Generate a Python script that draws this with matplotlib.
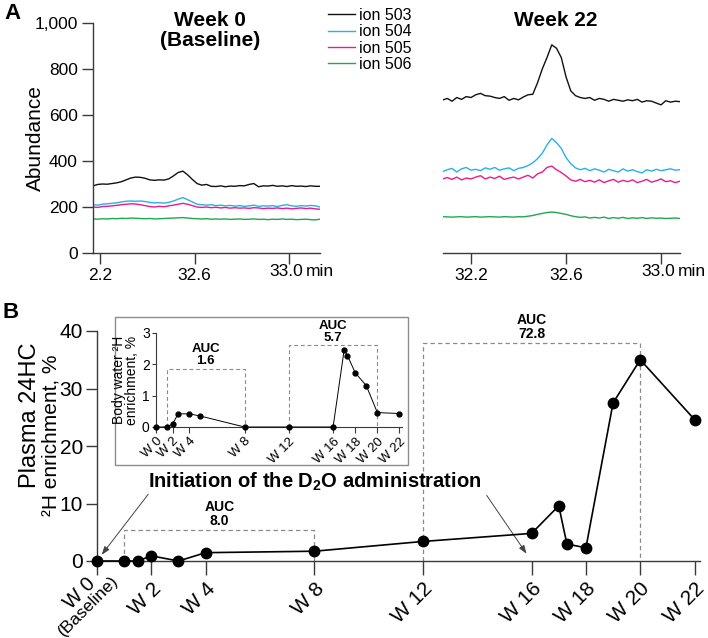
import numpy as np
import matplotlib
matplotlib.use("Agg")
import matplotlib.pyplot as plt
from matplotlib.patches import Rectangle

plt.rcParams['font.family'] = ['Liberation Sans', 'DejaVu Sans']
plt.rcParams['mathtext.fontset'] = 'custom'
plt.rcParams['mathtext.rm'] = 'Liberation Sans'
plt.rcParams['mathtext.bf'] = 'Liberation Sans:bold'

# ---- panel A: chromatogram traces (abundance vs retention time, min) ----
t_week0 = np.round(np.arange(32.17, 33.135, 0.02), 2)
t_week22 = np.round(np.arange(32.08, 33.085, 0.02), 2)

ion_labels = ["ion 503", "ion 504", "ion 505", "ion 506"]
ion_colors = ["#111111", "#27b0ec", "#ec1a8a", "#1fa84f"]

week0_503 = [292, 298, 300, 299, 302, 305, 310, 318, 326, 330,
             329, 325, 318, 316, 318, 317, 322, 335, 350, 356,
             340, 320, 302, 295, 298, 290, 289, 292, 288, 291,
             290, 293, 292, 298, 302, 288, 292, 291, 294, 290,
             292, 289, 293, 290, 291, 289, 292, 290, 290]
week0_504 = [210, 208, 212, 214, 216, 218, 222, 225, 226, 225,
             226, 224, 220, 218, 219, 217, 220, 226, 234, 241,
             232, 222, 212, 210, 208, 210, 206, 208, 205, 207,
             204, 206, 203, 205, 208, 203, 205, 204, 206, 202,
             207, 210, 205, 203, 206, 204, 207, 205, 200]
week0_505 = [200, 198, 202, 203, 205, 207, 210, 212, 214, 213,
             210, 206, 202, 200, 203, 201, 205, 208, 212, 216,
             212, 206, 200, 198, 200, 197, 199, 196, 198, 195,
             197, 195, 196, 194, 197, 196, 193, 195, 194, 196,
             193, 195, 192, 194, 196, 193, 195, 192, 190]
week0_506 = [148, 147, 149, 148, 150, 149, 151, 150, 152, 151,
             150, 149, 150, 148, 149, 150, 151, 152, 153, 154,
             152, 150, 149, 148, 149, 147, 148, 147, 148, 146,
             147, 148, 146, 147, 148, 146, 147, 145, 147, 146,
             148, 146, 147, 145, 146, 147, 145, 144, 147]

week22_503 = [665, 672, 660, 676, 668, 680, 676, 688, 694, 684,
              682, 676, 672, 680, 664, 672, 666, 678, 688, 690,
              740, 800, 850, 905, 890, 850, 766, 705, 684, 676,
              672, 676, 664, 672, 668, 660, 668, 664, 660, 666,
              662, 668, 656, 662, 660, 652, 644, 662, 656, 660, 658]
week22_504 = [354, 362, 368, 352, 366, 372, 360, 364, 358, 370,
              364, 372, 360, 366, 370, 358, 368, 372, 380, 392,
              410, 434, 470, 498, 480, 455, 415, 388, 370, 362,
              368, 358, 366, 360, 352, 364, 358, 352, 366, 356,
              362, 354, 348, 362, 356, 364, 358, 362, 366, 360, 362]
week22_505 = [322, 328, 320, 330, 318, 326, 322, 330, 336, 322,
              330, 324, 334, 320, 326, 330, 322, 330, 338, 326,
              344, 352, 372, 378, 362, 350, 335, 318, 312, 320,
              310, 316, 308, 318, 306, 314, 320, 308, 316, 310,
              318, 306, 312, 320, 308, 314, 322, 310, 314, 306, 312]
week22_506 = [158, 157, 156, 157, 158, 156, 157, 158, 156, 157,
              158, 157, 156, 158, 157, 156, 158, 157, 160, 163,
              168, 172, 176, 178, 176, 172, 168, 162, 158, 155,
              157, 152, 155, 152, 156, 150, 154, 151, 155, 150,
              153, 151, 154, 150, 153, 151, 152, 150, 151, 152, 150]

# ---- panel B: plasma 24HC enrichment and body water enrichment ----
weeks = [0, 1, 1.5, 2, 3, 4, 8, 12, 16, 17, 17.3, 18, 19, 20, 22]
plasma_24hc = [0, 0, 0, 0.9, 0, 1.45, 1.7, 3.4, 4.8, 9.6, 2.95, 2.3, 27.5, 35.0, 24.6]
body_water = [0, 0, 0.1, 0.42, 0.42, 0.35, 0, 0, 0, 2.46, 2.28, 1.73, 1.32, 0.46, 0.43]

main_ticks = [0, 2, 4, 8, 12, 16, 18, 20, 22]
main_ticklabels = ["W 0", "W 2", "W 4", "W 8", "W 12", "W 16", "W 18", "W 20", "W 22"]
baseline_note = "(Baseline)"
inset_ticks = [0, 1.5, 3, 8, 12, 16, 18, 20, 22]
inset_ticklabels = ["W 0", "W 2", "W 4", "W 8", "W 12", "W 16", "W 18", "W 20", "W 22"]

main_auc = [(1, 8, 5.4, "AUC\n8.0"), (12, 20, 37.9, "AUC\n72.8")]
inset_auc = [(1, 8, 1.85, "AUC\n1.6"), (12, 20, 2.61, "AUC\n5.7")]

W, H = 708, 638
def fx(px):
    return px / W
def fy(py):
    return 1 - py / H

spine_c = "#3a3a3a"
dash_c = "#8a8a8a"

fig = plt.figure(figsize=(7.08, 6.38), dpi=100)

axA1 = fig.add_axes([fx(93), fy(253), (320 - 93) / W, (253 - 23) / H])
axA2 = fig.add_axes([fx(443), fy(253), (680 - 443) / W, (253 - 23) / H])

w0 = [week0_503, week0_504, week0_505, week0_506]
w22 = [week22_503, week22_504, week22_505, week22_506]
handles = []
for ys, col, lab in zip(w0, ion_colors, ion_labels):
    h, = axA1.plot(t_week0, ys, color=col, lw=1.0, label=lab)
    handles.append(h)
for ys, col in zip(w22, ion_colors):
    axA2.plot(t_week22, ys, color=col, lw=1.0)

for ax, xl, labs in [(axA1, (32.17, 33.13), ["2.2", "32.6", ""]),
                     (axA2, (32.082, 33.08), ["32.2", "32.6", ""])]:
    ax.set_xlim(*xl)
    ax.set_ylim(0, 1000)
    ax.set_xticks([32.2, 32.6, 33.0])
    ax.set_xticklabels(labs)
    for s in ["top", "right"]:
        ax.spines[s].set_visible(False)
    for s in ["left", "bottom"]:
        ax.spines[s].set_color(spine_c)
        ax.spines[s].set_linewidth(1.0)
    ax.tick_params(length=8, width=1.0, color=spine_c, labelsize=12.5, pad=3)
    # last tick label with its unit, drawn by hand so "min" sits after it
    ppx = 236.0 / 0.96  # pixels per minute, roughly
    ax.text(33.0 - 3 / ppx, -11 / 230, "33.0", transform=ax.get_xaxis_transform(),
            fontsize=12.5, ha="center", va="top")
    ax.text(33.0 + 17 / ppx, -11 / 230, "min", transform=ax.get_xaxis_transform(),
            fontsize=12.5, ha="left", va="top")

axA1.set_yticks([0, 200, 400, 600, 800, 1000])
axA1.set_yticklabels(["0", "200", "400", "600", "800", "1,000"])
axA2.spines["left"].set_visible(False)
axA2.set_yticks([])

fig.text(fx(35), fy(138), "Abundance", rotation=90, ha="center", va="center", fontsize=15)
fig.text(fx(210), fy(11), "Week 0\n(Baseline)", ha="center", va="top",
         fontsize=15, fontweight="bold", linespacing=1.05)
fig.text(fx(556), fy(11), "Week 22", ha="center", va="top", fontsize=15, fontweight="bold")
fig.text(fx(4), fy(3), "A", ha="left", va="top", fontsize=16, fontweight="bold")
fig.text(fx(2), fy(302), "B", ha="left", va="top", fontsize=16, fontweight="bold")

fig.legend(handles, ion_labels, loc="upper left", bbox_to_anchor=(fx(328), fy(8)),
           frameon=False, fontsize=11.5, handlelength=1.7, handletextpad=0.25,
           labelspacing=0.08, borderaxespad=0, borderpad=0)

# ---- panel B main axes ----
axB = fig.add_axes([fx(97), fy(561), (700 - 97) / W, (561 - 331) / H])
for x0, x1, top, lab in main_auc:
    axB.plot([x0, x0, x1, x1], [0, top, top, 0], color=dash_c, lw=0.9,
             ls=(0, (3.5, 2.5)))
    axB.text((x0 + x1) / 2, top + 0.35, lab, ha="center", va="bottom",
             fontsize=10, fontweight="bold", linespacing=1.0)
axB.plot(weeks, plasma_24hc, color="black", lw=1.2, marker="o", ms=7.5,
         mfc="black", mec="black", clip_on=False, zorder=4)
axB.set_xlim(0, 22.2)
axB.set_ylim(0, 40)
axB.set_yticks([0, 10, 20, 30, 40])
axB.set_xticks(main_ticks)
axB.set_xticklabels([""] + main_ticklabels[1:])
for s in ["top", "right"]:
    axB.spines[s].set_visible(False)
for s in ["left", "bottom"]:
    axB.spines[s].set_color(spine_c)
    axB.spines[s].set_linewidth(1.0)
axB.tick_params(axis="y", length=8, width=1.0, color=spine_c, labelsize=15, pad=2)
axB.tick_params(axis="x", length=10, width=1.0, color=spine_c, labelsize=15, pad=3)
for lab in axB.get_xticklabels():
    lab.set_rotation(45)
    lab.set_ha("right")
    lab.set_va("top")
    lab.set_rotation_mode("anchor")
# first tick carries a second line, set by hand
xt = axB.get_xaxis_transform()
axB.text(-0.184, -20 / 230, main_ticklabels[0], transform=xt, rotation=45,
         rotation_mode="anchor", ha="right", va="center", fontsize=14.5)
axB.text(0.70, -17 / 230, baseline_note, transform=xt, rotation=45,
         rotation_mode="anchor", ha="right", va="center", fontsize=12.5)

fig.text(fx(30), fy(415), "Plasma 24HC", rotation=90, ha="center", va="center", fontsize=17)
fig.text(fx(51), fy(435), "²H enrichment, %", rotation=90, ha="center", va="center", fontsize=15)

axB.text(8.03, 13.7, r"Initiation of the D$_\mathbf{2}$O administration", ha="center",
         va="center", fontsize=14.5, fontweight="bold")
arrow_kw = dict(arrowstyle="-|>,head_length=0.5,head_width=0.18", color="#444444", lw=0.7)
axB.annotate("", xy=(0.11, 0.7), xytext=(1.95, 12.0), arrowprops=arrow_kw)
axB.annotate("", xy=(15.87, 0.87), xytext=(14.29, 11.8), arrowprops=arrow_kw)

axB.add_patch(Rectangle((fx(115), fy(465)), (408 - 115) / W, (465 - 317) / H,
                        transform=fig.transFigure, fill=False, ec="#8c8c8c", lw=1.0,
                        clip_on=False, zorder=5))

# ---- inset ----
axI = fig.add_axes([fx(156), fy(427), (401.7 - 156) / W, (427 - 333) / H])
for x0, x1, top, lab in inset_auc:
    axI.plot([x0, x0, x1, x1], [0, top, top, 0], color=dash_c, lw=0.8,
             ls=(0, (3.5, 2.5)))
    axI.text((x0 + x1) / 2, top + 0.05, lab, ha="center", va="bottom",
             fontsize=9.5, fontweight="bold", linespacing=1.0)
axI.plot(weeks, body_water, color="black", lw=0.7, marker="o", ms=3.5,
         clip_on=False, zorder=4)
axI.set_xlim(0, 22.2)
axI.set_ylim(0, 3)
axI.set_yticks([0, 1, 2, 3])
axI.set_xticks(inset_ticks)
axI.set_xticklabels(inset_ticklabels)
for s in ["top", "right"]:
    axI.spines[s].set_visible(False)
for s in ["left", "bottom"]:
    axI.spines[s].set_color(spine_c)
    axI.spines[s].set_linewidth(0.8)
axI.tick_params(axis="y", length=3, width=0.8, color=spine_c, labelsize=10, pad=1.5)
axI.tick_params(axis="x", length=4, width=0.8, color=spine_c, labelsize=9.5, pad=2)
for lab in axI.get_xticklabels():
    lab.set_rotation(45)
    lab.set_ha("right")
    lab.set_va("top")
    lab.set_rotation_mode("anchor")
axI.set_ylabel("Body water ²H\nenrichment, %", fontsize=10, labelpad=2, linespacing=0.95)

fig.savefig("out.png", dpi=100)
